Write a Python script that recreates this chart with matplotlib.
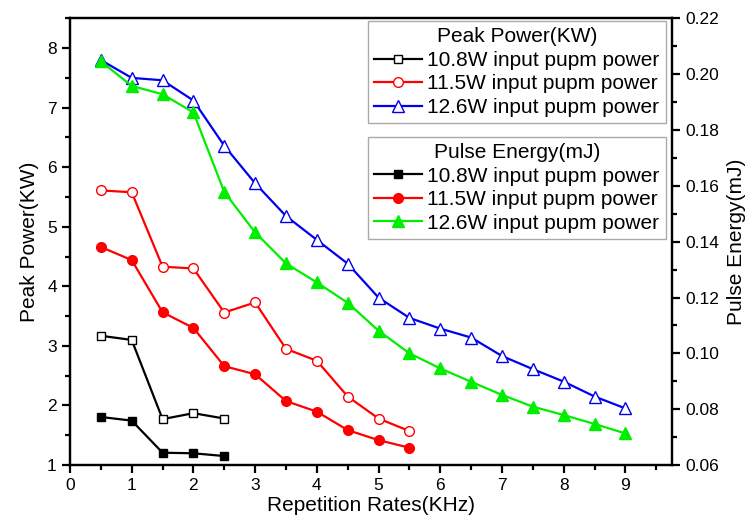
import matplotlib
matplotlib.use("Agg")
import matplotlib.pyplot as plt
from matplotlib.ticker import MultipleLocator

plt.rcParams['font.family'] = ['Liberation Sans', 'DejaVu Sans']

# Repetition rates (KHz)
rate_108 = [0.5, 1.0, 1.5, 2.0, 2.5]
rate_115 = [0.5, 1.0, 1.5, 2.0, 2.5, 3.0, 3.5, 4.0, 4.5, 5.0, 5.5]
rate_126 = [0.5, 1.0, 1.5, 2.0, 2.5, 3.0, 3.5, 4.0, 4.5,
            5.0, 5.5, 6.0, 6.5, 7.0, 7.5, 8.0, 8.5, 9.0]

# Peak power (KW)
peak_108 = [3.17, 3.10, 1.77, 1.87, 1.78]
peak_115 = [5.61, 5.58, 4.33, 4.30, 3.56, 3.73, 2.95, 2.75, 2.15, 1.78, 1.57]
peak_126 = [7.80, 7.50, 7.46, 7.12, 6.36, 5.73, 5.18, 4.78, 4.38,
            3.81, 3.47, 3.29, 3.14, 2.83, 2.61, 2.40, 2.15, 1.95]

# Pulse energy (mJ)
energy_108 = [0.0772, 0.0759, 0.0644, 0.0642, 0.0632]
energy_115 = [0.1381, 0.1334, 0.1147, 0.1091, 0.0954, 0.0925, 0.0829,
              0.0791, 0.0725, 0.0689, 0.0662]
energy_126 = [0.2046, 0.1958, 0.1928, 0.1863, 0.1578, 0.1433, 0.1322,
              0.1254, 0.1181, 0.1081, 0.1000, 0.0946, 0.0898, 0.0851,
              0.0809, 0.0779, 0.0747, 0.0713]

labels = ['10.8W input pupm power', '11.5W input pupm power', '12.6W input pupm power']

fig = plt.figure(figsize=(7.55, 5.24), dpi=100)
ax = fig.add_axes([0.0927, 0.1126, 0.7970, 0.8524])
ax2 = ax.twinx()

lw = 1.6
p1, = ax.plot(rate_108, peak_108, color='black', lw=lw, marker='s', ms=6,
              mfc='white', mec='black', mew=1.0)
p2, = ax.plot(rate_115, peak_115, color='red', lw=lw, marker='o', ms=7,
              mfc='white', mec='red', mew=1.0)
p3, = ax.plot(rate_126, peak_126, color='#0000ee', lw=lw, marker='^', ms=8,
              mfc='white', mec='#0000ee', mew=1.0)

e1, = ax2.plot(rate_108, energy_108, color='black', lw=lw, marker='s', ms=6)
e2, = ax2.plot(rate_115, energy_115, color='red', lw=lw, marker='o', ms=7)
e3, = ax2.plot(rate_126, energy_126, color='#00ee00', lw=lw, marker='^', ms=8)

ax.set_xlim(0, 9.75)
ax.set_ylim(1, 8.5)
ax2.set_ylim(0.06, 0.22)

ax.xaxis.set_major_locator(MultipleLocator(1))
ax.xaxis.set_minor_locator(MultipleLocator(0.5))
ax.yaxis.set_major_locator(MultipleLocator(1))
ax.yaxis.set_minor_locator(MultipleLocator(0.5))
ax2.yaxis.set_major_locator(MultipleLocator(0.02))
ax2.yaxis.set_minor_locator(MultipleLocator(0.01))
ax2.yaxis.set_major_formatter(plt.FormatStrFormatter('%.2f'))

for a in (ax, ax2):
    for s in a.spines.values():
        s.set_linewidth(1.6)
    a.tick_params(which='major', length=6, width=1.6, labelsize=12.5, direction='out')
    a.tick_params(which='minor', length=3.5, width=1.6, direction='out')
ax.tick_params(top=False, right=False)

ax.set_xlabel('Repetition Rates(KHz)', fontsize=15, labelpad=2)
ax.set_ylabel('Peak Power(KW)', fontsize=15, labelpad=6)
ax2.set_ylabel('Pulse Energy(mJ)', fontsize=15, labelpad=6)

leg_kw = dict(loc='upper right', fontsize=15, title_fontsize=15,
              frameon=True, fancybox=False, edgecolor='#aaaaaa',
              borderaxespad=0, handlelength=2.3, handletextpad=0.25,
              labelspacing=0.22, borderpad=0.3, framealpha=1)
leg1 = ax2.legend([p1, p2, p3], labels, title='Peak Power(KW)',
                  bbox_to_anchor=(0.99, 0.994), **leg_kw)
ax2.add_artist(leg1)
leg2 = ax2.legend([e1, e2, e3], labels, title='Pulse Energy(mJ)',
                  bbox_to_anchor=(0.99, 0.735), **leg_kw)

fig.savefig('out.png', dpi=100)
